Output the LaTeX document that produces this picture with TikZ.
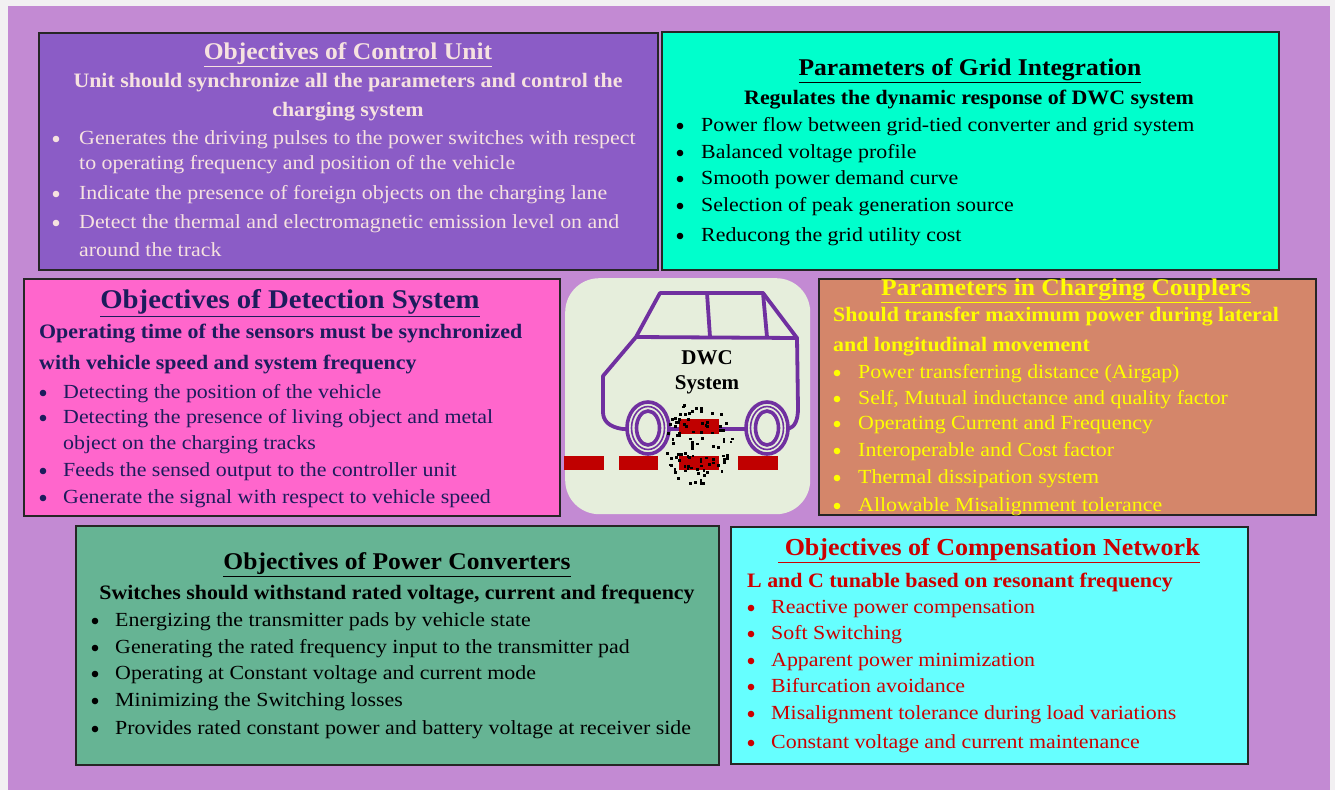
\documentclass[tikz,border=0pt]{standalone}
\usepackage{fontspec}
\setmainfont{Liberation Serif}
\newfontfamily\bodyf[FakeStretch=1.095]{Liberation Serif}
\newfontfamily\subf[FakeStretch=1.068]{Liberation Serif}
\newfontfamily\headf[FakeStretch=1.065]{Liberation Serif}
\definecolor{pagebg}{HTML}{F2F0F2}
\definecolor{lilac}{HTML}{C38AD3}
\definecolor{cufill}{HTML}{8B5CC6}
\definecolor{cutext}{HTML}{F6E2E0}
\definecolor{gifill}{HTML}{00FFCC}
\definecolor{dsfill}{HTML}{FF66CC}
\definecolor{dstext}{HTML}{1C1C5C}
\definecolor{ccfill}{HTML}{D4866A}
\definecolor{cctext}{HTML}{FFFF00}
\definecolor{pcfill}{HTML}{66B494}
\definecolor{cnfill}{HTML}{66FFFF}
\definecolor{cntext}{HTML}{CC0000}
\definecolor{carbg}{HTML}{E6EEDC}
\definecolor{carline}{HTML}{7030A0}
\definecolor{padred}{HTML}{C00000}
\tikzset{
  panel/.style={draw=black!85, line width=1.6pt, inner sep=0pt, anchor=north west},
  body/.style={inner sep=0pt, anchor=west, text height=15pt, text depth=3pt,
    font=\bodyf\fontsize{20}{24}\selectfont},
  bul/.style={circle, fill, inner sep=0pt, minimum size=6.6pt},
  head/.style={inner sep=0pt, text height=19pt, text depth=4pt,
    font=\headf\bfseries\fontsize{24}{28}\selectfont},
  sub/.style={inner sep=0pt, text height=16pt, text depth=3pt,
    font=\subf\bfseries\fontsize{20.5}{24}\selectfont},
  subl/.style={sub, anchor=west},
  car/.style={draw=carline, line width=3.8pt, line join=round, line cap=round},
  pad/.style={fill=padred, draw=none, inner sep=0pt, anchor=north west},
}
% bullet item: name, bullet x, text x, y, text, colour
\newcommand{\bitem}[6]{%
  \node[bul, fill=#6] (#1b) at (#2,#4+1) {};
  \node[body] (#1) at (#3,#4) {#5};}
\begin{document}
\begin{tikzpicture}[x=1pt,y=-1pt]
\useasboundingbox (0,0) rectangle (1335,790);
\fill[pagebg] (0,0) rectangle (1335,790);
\fill[lilac] (8,6) rectangle (1330,790);

% ---------- panels ----------
\node[panel, fill=cufill, minimum width=619pt, minimum height=237pt] (cu) at (38,32) {};
\node[panel, fill=gifill, minimum width=617pt, minimum height=238pt] (gi) at (661,31) {};
\node[panel, fill=dsfill, minimum width=536pt, minimum height=237pt] (ds) at (23,278) {};
\node[panel, fill=ccfill, minimum width=497pt, minimum height=236pt] (cc) at (818,278) {};
\node[panel, fill=pcfill, minimum width=643pt, minimum height=239pt] (pc) at (75,525) {};
\node[panel, fill=cnfill, minimum width=517pt, minimum height=237pt] (cn) at (730,526) {};
\node[inner sep=0pt, anchor=north west, fill=carbg, rounded corners=34pt,
  minimum width=245pt, minimum height=236pt] (dwc) at (565,278) {};

% ---------- control unit ----------
\begin{scope}[text=cutext]
\node[head] (cut) at (348,52) {\underline{Objectives of Control Unit}};
\node[sub] (cus1) at (348,81) {Unit should synchronize all the parameters and control the};
\node[sub] (cus2) at (348,110) {charging system};
\bitem{cu1}{56}{79}{138}{Generates the driving pulses to the power switches with respect}{cutext}
\node[body] (cu1x) at (79,163) {to operating frequency and position of the vehicle};
\bitem{cu2}{56}{79}{193}{Indicate the presence of foreign objects on the charging lane}{cutext}
\bitem{cu3}{56}{79}{222}{Detect the thermal and electromagnetic emission level on and}{cutext}
\node[body] (cu3x) at (79,250) {around the track};
\end{scope}

% ---------- grid integration ----------
\begin{scope}[text=black]
\node[head] (git) at (970,68) {\underline{Parameters of Grid Integration}};
\node[sub] (gis) at (969,98) {Regulates the dynamic response of DWC system};
\bitem{gi1}{680}{701}{125}{Power flow between grid-tied converter and grid system}{black}
\bitem{gi2}{680}{701}{152}{Balanced voltage profile}{black}
\bitem{gi3}{680}{701}{178}{Smooth power demand curve}{black}
\bitem{gi4}{680}{701}{205}{Selection of peak generation source}{black}
\bitem{gi5}{680}{701}{235}{Reducong the grid utility cost}{black}
\end{scope}

% ---------- detection system ----------
\begin{scope}[text=dstext]
\node[head, font=\headf\bfseries\fontsize{27}{30}\selectfont] (dst) at (290,301) {\underline{Objectives of Detection System}};
\node[subl] (dss1) at (39,332) {Operating time of the sensors must be synchronized};
\node[subl] (dss2) at (39,363) {with vehicle speed and system frequency};
\bitem{ds1}{43}{63}{392}{Detecting the position of the vehicle}{dstext}
\bitem{ds2}{43}{63}{417}{Detecting the presence of living object and metal}{dstext}
\node[body] (ds2x) at (63,443) {object on the charging tracks};
\bitem{ds3}{43}{63}{470}{Feeds the sensed output to the controller unit}{dstext}
\bitem{ds4}{43}{63}{497}{Generate the signal with respect to vehicle speed}{dstext}
\end{scope}

% ---------- charging couplers ----------
\begin{scope}[text=cctext]
\node[head, font=\headf\bfseries\fontsize{24}{28}\selectfont] (cct) at (1066,288) {\underline{Parameters in Charging Couplers}};
\node[subl] (ccs1) at (833,315) {Should transfer maximum power during lateral};
\node[subl] (ccs2) at (833,345) {and longitudinal movement};
\bitem{cc1}{837}{858}{372}{Power transferring distance (Airgap)}{cctext}
\bitem{cc2}{837}{858}{398}{Self, Mutual inductance and quality factor}{cctext}
\bitem{cc3}{837}{858}{423}{Operating Current and Frequency}{cctext}
\bitem{cc4}{837}{858}{450}{Interoperable and Cost factor}{cctext}
\bitem{cc5}{837}{858}{477}{Thermal dissipation system}{cctext}
\bitem{cc6}{837}{858}{505}{Allowable Misalignment tolerance}{cctext}
\end{scope}

% ---------- power converters ----------
\begin{scope}[text=black]
\node[head] (pct) at (397,562) {\underline{Objectives of Power Converters}};
\node[sub] (pcs) at (397,593) {Switches should withstand rated voltage, current and frequency};
\bitem{pc1}{95}{115}{620}{Energizing the transmitter pads by vehicle state}{black}
\bitem{pc2}{95}{115}{647}{Generating the rated frequency input to the transmitter pad}{black}
\bitem{pc3}{95}{115}{673}{Operating at Constant voltage and current mode}{black}
\bitem{pc4}{95}{115}{700}{Minimizing the Switching losses}{black}
\bitem{pc5}{95}{115}{728}{Provides rated constant power and battery voltage at receiver side}{black}
\end{scope}

% ---------- compensation network ----------
\begin{scope}[text=cntext]
\node[head, font=\headf\bfseries\fontsize{24.4}{28}\selectfont] (cnt) at (989,548) {\underline{\ Objectives of Compensation Network}};
\node[subl] (cns) at (747,581) {L and C tunable based on resonant frequency};
\bitem{cn1}{751}{771}{607}{Reactive power compensation}{cntext}
\bitem{cn2}{751}{771}{633}{Soft Switching}{cntext}
\bitem{cn3}{751}{771}{660}{Apparent power minimization}{cntext}
\bitem{cn4}{751}{771}{686}{Bifurcation avoidance}{cntext}
\bitem{cn5}{751}{771}{713}{Misalignment tolerance during load variations}{cntext}
\bitem{cn6}{751}{771}{742}{Constant voltage and current maintenance}{cntext}
\end{scope}

% ---------- DWC car sketch ----------
% road and transmitter pads
\node[pad, minimum width=40pt, minimum height=14pt] (r1) at (564,456) {};
\node[pad, minimum width=39pt, minimum height=14pt] (r2) at (619,456) {};
\node[pad, minimum width=40pt, minimum height=14pt] (tx) at (679,456) {};
\node[pad, minimum width=40pt, minimum height=14pt] (r3) at (738,456) {};
% body outline
\draw[car] (623,429) .. controls (608,427) and (603,420) .. (603,412)
  -- (603,376) -- (636,337) -- (660,293) -- (763,293) -- (797,338)
  -- (798,408) .. controls (798,420) and (795,427) .. (788,429) -- cycle;
\draw[car] (636,337) -- (797,338);
\draw[car] (707,293) -- (710,337);
\draw[car] (763,293) -- (767,337);
% receiver pad
\node[pad, minimum width=40pt, minimum height=15pt] (rx) at (679,419) {};
% wheels
\foreach \cx in {648, 767}{
  \fill[carbg] (\cx,428) ellipse [x radius=22, y radius=27];
  \draw[carline, line width=3.6pt] (\cx,428) ellipse [x radius=21, y radius=26];
  \draw[carline, line width=1.6pt] (\cx,428) ellipse [x radius=16.5, y radius=21.5];
  \draw[carline, line width=3.6pt] (\cx,428) ellipse [x radius=11.5, y radius=17];
}
\node[inner sep=0pt, font=\bfseries\fontsize{21}{24}\selectfont] (dwct) at (707,358) {DWC};
\node[inner sep=0pt, font=\bfseries\fontsize{21}{24}\selectfont] (syst) at (707,385) {System};
% magnetic field dots
\pgfmathsetseed{4217}
\foreach \k in {1,...,95}{
  \pgfmathsetmacro{\rr}{sqrt(rnd)}
  \pgfmathsetmacro{\aa}{360*rnd}
  \pgfmathsetmacro{\px}{699+34*\rr*cos(\aa)}
  \pgfmathsetmacro{\py}{444+43*\rr*sin(\aa)}
  \fill[black] (\px-1.4,\py-1.4) rectangle (\px+1.4,\py+1.4);
}
\end{tikzpicture}
\end{document}
